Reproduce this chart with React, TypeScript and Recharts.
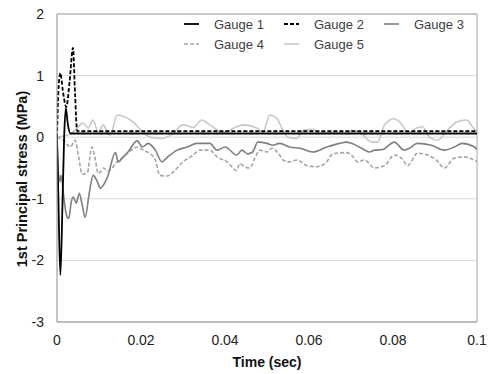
import React from 'react'
import {
  LineChart, Line, XAxis, YAxis, CartesianGrid, Legend, ReferenceLine, Label,
} from 'recharts'

// time (sec), stress (MPa)
const gauge1: [number, number][] = [
  [0, 0], [0.0003, -0.9], [0.0008, -2.24], [0.0013, -1.1], [0.0017, 0], [0.0021, 0.47],
  [0.0026, 0.2], [0.0032, 0.06], [0.1, 0.06],
]

const gauge2: [number, number][] = [
  [0, 0], [0.0003, 0.7], [0.0008, 1.04], [0.0014, 0.75], [0.0022, 0.49], [0.003, 0.9],
  [0.0038, 1.45], [0.0043, 0.7], [0.0048, 0.1], [0.1, 0.1],
]

const gauge3: [number, number][] = [
  [0, 0], [0.0003, -0.55], [0.0007, -0.72], [0.001, -0.62], [0.0015, -0.9], [0.0022, -1.25],
  [0.0028, -1.32], [0.0034, -1.05], [0.0039, -0.97], [0.0046, -1.07], [0.0053, -0.91],
  [0.006, -1.1], [0.0067, -1.3], [0.0077, -0.9], [0.0086, -0.62], [0.0096, -0.72],
  [0.0103, -0.83], [0.012, -0.65], [0.0139, -0.25], [0.0146, -0.4], [0.0158, -0.32],
  [0.0169, -0.24], [0.0191, -0.06], [0.0203, -0.16], [0.0217, -0.1], [0.0234, -0.21],
  [0.025, -0.4], [0.0262, -0.33], [0.0286, -0.21], [0.031, -0.16], [0.0333, -0.1],
  [0.0364, -0.1], [0.0381, -0.21], [0.04, -0.16], [0.0428, -0.29], [0.044, -0.21],
  [0.0454, -0.27], [0.0466, -0.24], [0.0478, -0.08], [0.05, -0.1], [0.0514, -0.13],
  [0.053, -0.1], [0.0554, -0.16], [0.0578, -0.18], [0.0609, -0.24], [0.0642, -0.16],
  [0.0673, -0.1], [0.0689, -0.08], [0.0701, -0.1], [0.0725, -0.18], [0.0744, -0.24],
  [0.0756, -0.21], [0.0775, -0.2], [0.0803, -0.08], [0.0827, -0.21], [0.0839, -0.18],
  [0.0858, -0.1], [0.0891, -0.13], [0.0922, -0.21], [0.0946, -0.16], [0.0965, -0.1],
  [0.0994, -0.16], [0.1, -0.2],
]

const gauge4: [number, number][] = [
  [0, 0], [0.0015, -0.05], [0.0032, -0.16], [0.0043, -0.05], [0.0051, -0.3], [0.006, -0.6],
  [0.0072, -0.58], [0.0083, -0.16], [0.0091, -0.35], [0.0098, -0.59], [0.0105, -0.55],
  [0.011, -0.5], [0.0122, -0.55], [0.0143, -0.4], [0.0158, -0.32], [0.0179, -0.2],
  [0.0191, -0.16], [0.0205, -0.21], [0.0222, -0.27], [0.0234, -0.37], [0.0245, -0.62],
  [0.0262, -0.63], [0.0276, -0.57], [0.03, -0.4], [0.0324, -0.29], [0.034, -0.21],
  [0.0364, -0.21], [0.0381, -0.32], [0.0405, -0.4], [0.0428, -0.54], [0.0435, -0.43],
  [0.0447, -0.48], [0.0459, -0.5], [0.0471, -0.34], [0.0483, -0.21], [0.05, -0.24],
  [0.0511, -0.18], [0.053, -0.29], [0.0538, -0.37], [0.0554, -0.4], [0.0571, -0.37],
  [0.0595, -0.46], [0.0618, -0.48], [0.0642, -0.4], [0.0656, -0.27], [0.069, -0.25],
  [0.0701, -0.29], [0.0716, -0.4], [0.0732, -0.37], [0.0756, -0.5], [0.078, -0.46],
  [0.0803, -0.29], [0.082, -0.34], [0.0835, -0.46], [0.0858, -0.26], [0.0882, -0.29],
  [0.0903, -0.37], [0.0922, -0.5], [0.0946, -0.34], [0.097, -0.32], [0.1, -0.4],
]

const gauge5: [number, number][] = [
  [0, 0], [0.0015, 0.02], [0.0032, 0.05], [0.0048, 0.15], [0.0062, 0.23], [0.0074, 0.15],
  [0.0086, 0.28], [0.0098, 0.08], [0.011, 0.2], [0.012, 0.08], [0.0127, 0.03],
  [0.0143, 0.36], [0.0167, 0.31], [0.0181, 0.25], [0.0205, 0.08], [0.0222, 0],
  [0.025, -0.02], [0.0276, 0.06], [0.03, 0.2], [0.0324, 0.16], [0.0345, 0.28],
  [0.0364, 0.2], [0.0395, 0.08], [0.0428, 0.17], [0.0443, 0.2], [0.0476, 0.15],
  [0.049, 0.08], [0.0507, 0.36], [0.0523, 0.31], [0.0538, 0.11], [0.055, 0],
  [0.0571, -0.02], [0.0585, 0.11], [0.0609, 0.13], [0.0625, 0.06], [0.0656, 0.08],
  [0.069, 0.06], [0.0701, 0.11], [0.0725, 0.06], [0.0749, -0.08], [0.0763, -0.08],
  [0.078, 0.2], [0.0803, 0.3], [0.0822, 0.2], [0.0835, 0.06], [0.0856, 0.15],
  [0.087, 0.17], [0.0887, 0], [0.0906, -0.05], [0.0929, 0.11], [0.0953, 0.25],
  [0.0975, 0.28], [0.0989, 0.17], [0.1, 0.08],
]

const xTicks = [0, 0.02, 0.04, 0.06, 0.08, 0.1]
const yTicks = [-3, -2, -1, 0, 1, 2]

const series = [
  { name: 'Gauge 1', data: gauge1, color: '#000000', dash: undefined, width: 1.8 },
  { name: 'Gauge 2', data: gauge2, color: '#000000', dash: '4 2', width: 1.8 },
  { name: 'Gauge 3', data: gauge3, color: '#7f7f7f', dash: undefined, width: 1.6 },
  { name: 'Gauge 4', data: gauge4, color: '#a6a6a6', dash: '4 2', width: 1.6 },
  { name: 'Gauge 5', data: gauge5, color: '#c8c8c8', dash: undefined, width: 1.6 },
]

// draw lightest first so the black traces stay on top
const drawOrder = [4, 3, 2, 1, 0]

const toPoints = (pts: [number, number][]) => pts.map(([t, v]) => ({ t, v }))

const FONT = '"Liberation Sans", Arial, sans-serif'

function LegendBox() {
  return (
    <div style={{ display: 'grid', gridTemplateColumns: '100px 100px 100px', fontFamily: FONT, fontSize: 13, color: '#404040' }}>
      {series.map((s) => (
        <div key={s.name} style={{ display: 'flex', alignItems: 'center', height: 20 }}>
          <svg width={34} height={10} style={{ flex: 'none' }}>
            <line x1={4} x2={19} y1={5} y2={5} stroke={s.color} strokeWidth={s.width} strokeDasharray={s.dash} />
          </svg>
          <span>{s.name}</span>
        </div>
      ))}
    </div>
  )
}

export default function App() {
  return (
    <div style={{ position: 'absolute', left: 0, top: 0, width: 493, height: 374, background: '#fff' }}>
      <LineChart width={493} height={374} margin={{ top: 14, right: 16, bottom: 2, left: 0 }}>
        <CartesianGrid vertical={false} stroke="#d9d9d9" />
        <XAxis
          dataKey="t"
          type="number"
          domain={[0, 0.1]}
          ticks={xTicks}
          tickLine={false}
          tickMargin={7}
          height={50}
          stroke="#8c8c8c"
          tick={{ fill: '#222', fontSize: 14, fontFamily: FONT }}
          allowDataOverflow
        >
          <Label value="Time (sec)" position="insideBottom" offset={5} style={{ fontWeight: 'bold', fontSize: 14, fontFamily: FONT, fill: '#111' }} />
        </XAxis>
        <YAxis
          type="number"
          domain={[-3, 2]}
          ticks={yTicks}
          tickLine={false}
          tickMargin={7}
          width={57}
          stroke="#8c8c8c"
          tick={{ fill: '#222', fontSize: 14, fontFamily: FONT }}
          allowDataOverflow
        >
          <Label value="1st Principal stress (MPa)" angle={-90} position="center" dx={-7} dy={11} style={{ fontWeight: 'bold', fontSize: 14.5, fontFamily: FONT, fill: '#111', textAnchor: 'middle' }} />
        </YAxis>
        <ReferenceLine y={2} stroke="#a6a6a6" />
        <ReferenceLine x={0.1} stroke="#a6a6a6" />
        {drawOrder.map((i) => {
          const s = series[i]
          return (
            <Line
              key={s.name}
              data={toPoints(s.data)}
              dataKey="v"
              name={s.name}
              type="monotone"
              stroke={s.color}
              strokeWidth={s.width}
              strokeDasharray={s.dash}
              dot={false}
              activeDot={false}
              isAnimationActive={false}
            />
          )
        })}
        <Legend
          layout="vertical"
          align="center"
          verticalAlign="middle"
          content={() => <LegendBox />}
          wrapperStyle={{ top: 14, left: 180, width: 300, height: 40 }}
        />
      </LineChart>
    </div>
  )
}
